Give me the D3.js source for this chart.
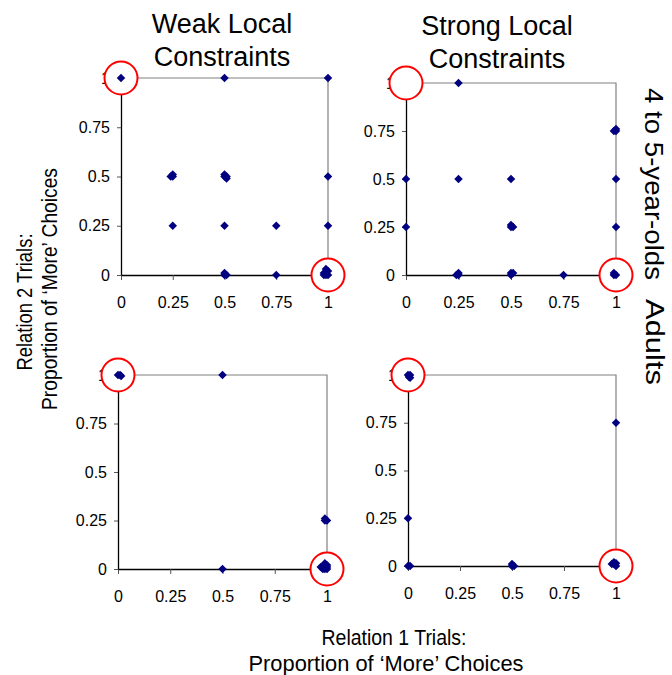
<!DOCTYPE html>
<html>
<head>
<meta charset="utf-8">
<script src="https://cdn.jsdelivr.net/npm/d3@7"></script>
<style>
  body { margin: 0; background: #fff; }
  svg { display: block; font-family: "Liberation Sans", Arial, sans-serif; }
  .tick text { font-size: 16px; fill: #000; }
</style>
</head>
<body>
<svg id="chart" width="672" height="675"></svg>
<script>
// tick values / labels shared by all four panels
var tickValues = [0, 0.25, 0.5, 0.75, 1];
var tickLabels = ["0", "0.25", "0.5", "0.75", "1"];

var columnTitles = [["Weak Local", "Constraints"], ["Strong Local", "Constraints"]];
var rowTitles = ["4 to 5-year-olds", "Adults"];

// [relation 1 proportion, relation 2 proportion] per participant (overlaps read as small offsets)
var weakKids = [
    [0, 1], [0.5, 1], [1, 1],
    [0.25, 0.5], [0.24, 0.5], [0.25, 0.51],
    [0.5, 0.5], [0.51, 0.5], [0.5, 0.51], [0.51, 0.49],
    [1, 0.5],
    [0.25, 0.25], [0.5, 0.25], [0.75, 0.25], [1, 0.25],
    [0.5, 0], [0.51, 0], [0.5, 0.01],
    [0.75, 0],
    [1, 0], [0.99, 0], [0.98, 0.01], [1, 0.02], [0.99, 0.03], [0.98, 0]
];
var strongKids = [
    [0.25, 1],
    [1, 0.75], [0.99, 0.75], [1, 0.76],
    [0, 0.5], [0.25, 0.5], [0.5, 0.5], [1, 0.5],
    [0, 0.25], [0.5, 0.25], [0.51, 0.25], [0.5, 0.26],
    [1, 0.25],
    [0.25, 0], [0.24, 0], [0.25, 0.01],
    [0.5, 0], [0.51, 0.01], [0.5, 0.01],
    [0.75, 0],
    [1, 0], [0.99, 0], [0.99, 0.01]
];
var weakAdults = [
    [0, 1], [0.01, 1], [0.015, 0.995],
    [0.5, 1],
    [1, 0.25], [0.99, 0.25], [0.99, 0.26],
    [0.5, 0],
    [1, 0], [0.99, 0], [0.98, 0.01], [1, 0.02], [0.99, 0.03], [0.98, 0], [0.97, 0.01], [1, 0.01]
];
var strongAdults = [
    [0, 1], [0.01, 1], [0.005, 0.99], [0.01, 0.985],
    [1, 0.75],
    [0, 0.25],
    [0, 0], [0.01, 0],
    [0.5, 0], [0.51, 0], [0.5, 0.01],
    [1, 0], [0.99, 0.01], [0.98, 0.01], [0.99, 0.02], [1, 0.015]
];
// highlighted response patterns
var highlights = [[0, 1], [1, 0]];

var svg = d3.select("#chart");

// plot boxes for each panel
var panels = [
    {data: weakKids,     x0: 121, x1: 328, y0: 275, y1: 78},
    {data: strongKids,   x0: 406, x1: 616, y0: 275, y1: 83},
    {data: weakAdults,   x0: 118, x1: 327, y0: 569, y1: 375},
    {data: strongAdults, x0: 408, x1: 616, y0: 566, y1: 375}
];

var diamond = d3.symbol().type(d3.symbolSquare).size(36);

panels.forEach(function(p) {
    var x = d3.scaleLinear().domain([0, 1]).range([p.x0, p.x1]);
    var y = d3.scaleLinear().domain([0, 1]).range([p.y0, p.y1]);
    var g = svg.append("g");

    // grey frame top + right
    g.append("path")
        .attr("d", "M" + x(0) + "," + y(1) + "H" + x(1) + "V" + y(0))
        .attr("fill", "none").attr("stroke", "#808080").attr("stroke-width", 1.2);

    var xAxis = g.append("g")
        .attr("transform", "translate(0," + y(0) + ")")
        .call(d3.axisBottom(x).tickValues(tickValues)
            .tickFormat(function(d, i) { return tickLabels[i]; })
            .tickSize(5).tickSizeOuter(0).tickPadding(17));
    var yAxis = g.append("g")
        .attr("transform", "translate(" + x(0) + ",0)")
        .call(d3.axisLeft(y).tickValues(tickValues)
            .tickFormat(function(d, i) { return tickLabels[i]; })
            .tickSize(4).tickSizeOuter(0).tickPadding(7));
    [xAxis, yAxis].forEach(function(a) {
        a.attr("font-family", null).attr("font-size", null);
        a.select(".domain").attr("stroke", "#000").attr("stroke-width", 1.3);
        a.selectAll(".tick line").attr("stroke", "#555");
    });

    g.selectAll("circle.hl").data(highlights).enter().append("circle")
        .attr("class", "hl")
        .attr("cx", function(d) { return x(d[0]); })
        .attr("cy", function(d) { return y(d[1]); })
        .attr("r", 16.5)
        .attr("fill", "#fff").attr("stroke", "#ff0000").attr("stroke-width", 2);

    g.selectAll("path.pt").data(p.data).enter().append("path")
        .attr("class", "pt")
        .attr("d", diamond)
        .attr("transform", function(d) { return "translate(" + x(d[0]) + "," + y(d[1]) + ") rotate(45)"; })
        .attr("fill", "#000080");
});

// column titles
var titlePos = [[222, 33], [497, 35]];
columnTitles.forEach(function(lines, i) {
    lines.forEach(function(t, j) {
        svg.append("text")
            .attr("x", titlePos[i][0]).attr("y", titlePos[i][1] + j * 33)
            .attr("text-anchor", "middle").attr("font-size", 27)
            .text(t);
    });
});

// row titles on the right
var rowPos = [[645, 184, 192], [646, 342, 86]];
rowTitles.forEach(function(t, i) {
    svg.append("text")
        .attr("transform", "translate(" + rowPos[i][0] + "," + rowPos[i][1] + ") rotate(90)")
        .attr("text-anchor", "middle").attr("font-size", 26)
        .attr("textLength", rowPos[i][2]).attr("lengthAdjust", "spacingAndGlyphs")
        .text(t);
});

// shared axis titles
var yTitle = [["Relation 2 Trials:", 32, 302, 137], ["Proportion of \u2018More\u2019 Choices", 57, 289, 242]];
yTitle.forEach(function(l) {
    svg.append("text")
        .attr("transform", "translate(" + l[1] + "," + l[2] + ") rotate(-90)")
        .attr("text-anchor", "middle").attr("font-size", 22)
        .attr("textLength", l[3]).attr("lengthAdjust", "spacingAndGlyphs")
        .text(l[0]);
});
var xTitle = [["Relation 1 Trials:", 394, 645, 145], ["Proportion of \u2018More\u2019 Choices", 386, 671, 275]];
xTitle.forEach(function(l) {
    svg.append("text")
        .attr("x", l[1]).attr("y", l[2])
        .attr("text-anchor", "middle").attr("font-size", 22)
        .attr("textLength", l[3]).attr("lengthAdjust", "spacingAndGlyphs")
        .text(l[0]);
});
</script>
</body>
</html>
